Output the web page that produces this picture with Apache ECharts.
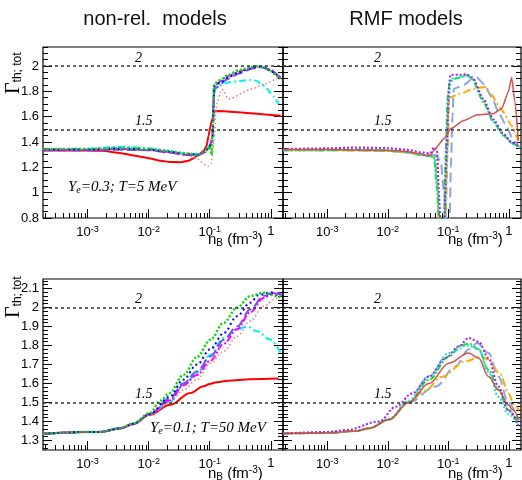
<!DOCTYPE html>
<html>
<head>
<meta charset="utf-8">
<script src="https://cdn.jsdelivr.net/npm/echarts@6/dist/echarts.min.js"></script>
<style>
html, body { margin: 0; padding: 0; background: #fff; }
#main { width: 522px; height: 480px; }
</style>
</head>
<body>
<div id="main"></div>
<script>
// shared x range (n_B in fm^-3)
let xMin = 1.86e-4, xMax = 1.585;
let xLabels = [1e-3, 1e-2, 1e-1, 1];

// y ticks
let topYLabels = [0.8, 1, 1.2, 1.4, 1.6, 1.8, 2];
let botYLabels = [1.3, 1.4, 1.5, 1.6, 1.7, 1.8, 1.9, 2, 2.1];

// ---- non-rel. models, Ye=0.3; T=5 MeV ----
let nrTopRed = [[1.86e-4,1.332],[1e-3,1.332],[1.78e-3,1.33],[3.16e-3,1.315],[6.3e-3,1.29],[0.01,1.272],[0.0158,1.252],[0.0224,1.242],[0.0331,1.241],[0.0447,1.252],[0.0537,1.27],[0.066,1.30],[0.0794,1.33],[0.0891,1.37],[0.0955,1.447],[0.102,1.52],[0.11,1.58],[0.116,1.632],[0.123,1.645],[1.45,1.607]];
let nrTopSalmon = [[1.86e-4,1.34],[1e-3,1.34],[3e-3,1.345],[0.01,1.335],[0.02,1.32],[0.033,1.305],[0.042,1.30],[0.062,1.268],[0.085,1.222],[0.095,1.21],[0.105,1.23],[0.117,1.40],[0.13,1.70],[0.158,1.816],[0.204,1.74],[0.5,1.82],[0.8,1.86],[1.45,1.92]];
let nrTopGreen = [[1.86e-4,1.345],[1e-3,1.345],[3e-3,1.352],[0.01,1.345],[0.02,1.33],[0.04,1.31],[0.065,1.30],[0.085,1.33],[0.1,1.37],[0.108,1.30],[0.113,1.55],[0.118,1.86],[0.15,1.89],[0.2,1.93],[0.3,1.965],[0.45,1.99],[0.6,2.0],[0.8,1.99],[1.0,1.96],[1.2,1.93],[1.45,1.90]];
let nrTopBlue = [[1.86e-4,1.34],[1e-3,1.34],[3e-3,1.348],[0.01,1.34],[0.02,1.325],[0.04,1.305],[0.065,1.30],[0.085,1.33],[0.1,1.37],[0.11,1.40],[0.115,1.70],[0.118,1.84],[0.15,1.87],[0.2,1.91],[0.3,1.95],[0.45,1.98],[0.6,1.995],[0.8,1.99],[1.0,1.96],[1.45,1.90]];
let nrTopMagenta = [[1.86e-4,1.338],[1e-3,1.338],[3e-3,1.345],[0.01,1.34],[0.02,1.322],[0.04,1.30],[0.065,1.298],[0.085,1.325],[0.1,1.36],[0.112,1.45],[0.116,1.75],[0.12,1.85],[0.2,1.92],[0.3,1.955],[0.5,1.99],[0.7,2.0],[1.0,1.97],[1.45,1.90]];
let nrTopViolet = [[1.86e-4,1.335],[1e-3,1.335],[3e-3,1.34],[0.01,1.335],[0.02,1.32],[0.04,1.30],[0.065,1.295],[0.085,1.32],[0.1,1.35],[0.112,1.45],[0.116,1.72],[0.12,1.82],[0.2,1.90],[0.3,1.94],[0.5,1.98],[0.7,1.99],[1.0,1.965],[1.45,1.91]];
let nrTopCyan = [[1.86e-4,1.34],[1e-3,1.345],[2.5e-3,1.36],[5e-3,1.36],[0.01,1.35],[0.02,1.33],[0.04,1.31],[0.065,1.305],[0.085,1.33],[0.1,1.36],[0.112,1.45],[0.116,1.70],[0.12,1.83],[0.2,1.87],[0.3,1.88],[0.45,1.89],[0.56,1.885],[0.7,1.86],[0.86,1.82],[1.1,1.76],[1.35,1.70]];

// ---- RMF models, Ye=0.3; T=5 MeV ----
let rmfTopRed = [[1.86e-4,1.34],[1e-3,1.34],[0.01,1.335],[0.02,1.325],[0.033,1.31],[0.045,1.29],[0.052,1.30],[0.057,1.333],[0.085,1.426],[0.11,1.505],[0.18,1.57],[0.3,1.616],[0.55,1.624],[0.76,1.663],[0.98,1.795],[1.11,1.91],[1.26,1.715],[1.43,1.41]];
let rmfTopOrange = [[1.86e-4,1.335],[1e-3,1.335],[0.01,1.33],[0.02,1.32],[0.035,1.30],[0.05,1.29],[0.06,1.28],[0.066,1.10],[0.07,0.75],[0.09,0.75],[0.097,1.30],[0.103,1.75],[0.155,1.78],[0.26,1.82],[0.4,1.835],[0.5,1.78],[0.68,1.69],[0.81,1.636],[1.1,1.53],[1.43,1.41]];
let rmfTopGreen = [[1.86e-4,1.335],[1e-3,1.335],[3e-3,1.34],[0.01,1.33],[0.02,1.32],[0.035,1.30],[0.05,1.29],[0.058,1.28],[0.065,1.03],[0.07,0.75],[0.085,0.75],[0.09,1.29],[0.098,1.77],[0.106,1.875],[0.13,1.90],[0.204,1.927],[0.245,1.90],[0.38,1.715],[0.556,1.557],[0.81,1.452],[1.17,1.386],[1.5,1.36]];
let rmfTopPurple = [[1.86e-4,1.345],[1e-3,1.35],[3e-3,1.357],[0.01,1.352],[0.02,1.34],[0.035,1.32],[0.05,1.31],[0.058,1.36],[0.065,1.33],[0.07,1.0],[0.074,0.75],[0.085,0.75],[0.095,1.40],[0.103,1.85],[0.108,1.93],[0.15,1.93],[0.2,1.935],[0.25,1.91],[0.38,1.74],[0.55,1.58],[0.8,1.47],[1.1,1.40],[1.5,1.36]];
let rmfTopCyan = [[1.86e-4,1.34],[1e-3,1.342],[3e-3,1.348],[0.01,1.34],[0.02,1.325],[0.035,1.305],[0.05,1.295],[0.06,1.29],[0.068,1.0],[0.075,0.75],[0.088,0.75],[0.094,1.2],[0.1,1.7],[0.11,1.90],[0.15,1.91],[0.2,1.925],[0.25,1.91],[0.38,1.73],[0.55,1.57],[0.8,1.46],[1.1,1.39],[1.5,1.35]];
let rmfTopSteel = [[1.86e-4,1.335],[1e-3,1.335],[0.01,1.33],[0.02,1.32],[0.035,1.30],[0.05,1.29],[0.06,1.30],[0.075,1.25],[0.085,1.0],[0.092,0.75],[0.105,0.75],[0.11,1.2],[0.117,1.6],[0.123,1.82],[0.18,1.85],[0.25,1.90],[0.295,1.91],[0.4,1.85],[0.516,1.755],[0.7,1.62],[0.865,1.545],[1.18,1.42],[1.43,1.37]];

// ---- non-rel. models, Ye=0.1; T=50 MeV ----
let nrBotRed = [[1.86e-4,1.335],[1e-3,1.345],[1.6e-3,1.345],[3.4e-3,1.363],[5.6e-3,1.386],[0.0105,1.435],[0.0224,1.488],[0.048,1.55],[0.079,1.585],[0.1,1.598],[0.13,1.607],[0.2,1.615],[0.46,1.623],[1.34,1.626]];
let nrBotSalmon = [[1.86e-4,1.335],[1e-3,1.345],[1.6e-3,1.345],[3.4e-3,1.363],[5.6e-3,1.388],[0.0105,1.435],[0.022,1.50],[0.037,1.566],[0.062,1.62],[0.102,1.707],[0.17,1.77],[0.28,1.848],[0.46,1.928],[0.76,2.007],[1.26,2.05],[1.5,2.07]];
let nrBotGreen = [[1.86e-4,1.335],[1e-3,1.345],[1.6e-3,1.345],[3.4e-3,1.365],[5.6e-3,1.39],[0.0105,1.445],[0.0155,1.51],[0.022,1.55],[0.037,1.645],[0.062,1.74],[0.102,1.83],[0.17,1.92],[0.28,2.0],[0.46,2.06],[0.76,2.078],[1.26,2.06],[1.5,2.05]];
let nrBotBlue = [[1.86e-4,1.335],[1e-3,1.345],[1.6e-3,1.345],[3.4e-3,1.364],[5.6e-3,1.388],[0.0105,1.44],[0.022,1.53],[0.037,1.62],[0.062,1.70],[0.102,1.78],[0.17,1.866],[0.28,1.954],[0.46,2.025],[0.63,2.065],[1.0,2.08],[1.3,2.065],[1.5,2.06]];
let nrBotViolet = [[1.86e-4,1.335],[1e-3,1.345],[1.6e-3,1.345],[3.4e-3,1.364],[5.6e-3,1.388],[0.0105,1.44],[0.022,1.52],[0.037,1.60],[0.062,1.663],[0.102,1.742],[0.17,1.83],[0.28,1.90],[0.46,1.99],[0.76,2.06],[1.1,2.078],[1.5,2.07]];
let nrBotMagenta = [[1.86e-4,1.335],[1e-3,1.345],[1.6e-3,1.345],[3.4e-3,1.364],[5.6e-3,1.388],[0.0105,1.44],[0.022,1.51],[0.037,1.59],[0.062,1.645],[0.102,1.72],[0.17,1.81],[0.28,1.885],[0.46,1.975],[0.76,2.05],[1.1,2.075],[1.5,2.07]];
let nrBotCyan = [[1.86e-4,1.335],[1e-3,1.345],[1.6e-3,1.345],[3.4e-3,1.364],[5.6e-3,1.388],[0.0105,1.44],[0.022,1.50],[0.037,1.593],[0.062,1.654],[0.102,1.75],[0.17,1.84],[0.28,1.884],[0.41,1.90],[0.59,1.875],[1.0,1.83],[1.5,1.75]];

// ---- RMF models, Ye=0.1; T=50 MeV ----
let rmfBotRed = [[1.86e-4,1.337],[1e-3,1.34],[3e-3,1.35],[5e-3,1.365],[0.0105,1.41],[0.022,1.50],[0.048,1.60],[0.102,1.707],[0.217,1.76],[0.316,1.734],[0.46,1.637],[0.67,1.566],[0.98,1.487],[1.17,1.46],[1.47,1.407]];
let rmfBotOrange = [[1.86e-4,1.337],[1e-3,1.34],[3e-3,1.35],[5e-3,1.365],[0.0105,1.41],[0.022,1.50],[0.04,1.56],[0.079,1.636],[0.19,1.716],[0.34,1.742],[0.46,1.725],[0.716,1.65],[0.98,1.548],[1.26,1.48],[1.47,1.46]];
let rmfBotGreen = [[1.86e-4,1.337],[1e-3,1.34],[3e-3,1.35],[5e-3,1.365],[0.0105,1.41],[0.022,1.50],[0.048,1.62],[0.102,1.742],[0.162,1.80],[0.217,1.81],[0.316,1.78],[0.46,1.672],[0.67,1.566],[0.98,1.46],[1.43,1.39]];
let rmfBotPurple = [[1.86e-4,1.337],[1e-3,1.345],[2.06e-3,1.355],[7.2e-3,1.40],[0.0136,1.478],[0.0255,1.548],[0.048,1.636],[0.09,1.734],[0.148,1.795],[0.217,1.84],[0.316,1.82],[0.46,1.734],[0.67,1.584],[0.98,1.46],[1.43,1.38]];
let rmfBotCyan = [[1.86e-4,1.337],[1e-3,1.34],[3e-3,1.35],[5e-3,1.366],[0.0105,1.415],[0.022,1.51],[0.048,1.64],[0.102,1.76],[0.217,1.80],[0.316,1.78],[0.46,1.66],[0.67,1.53],[0.98,1.44],[1.43,1.38]];
let rmfBotSteel = [[1.86e-4,1.337],[1e-3,1.34],[3e-3,1.35],[5e-3,1.365],[0.0105,1.41],[0.022,1.50],[0.062,1.584],[0.131,1.69],[0.217,1.78],[0.3,1.813],[0.46,1.76],[0.67,1.637],[0.98,1.50],[1.43,1.41]];

// minor tick positions
let xMinor = [];
for (let e = -4; e <= 0; e++) {
    for (let k = 2; k <= 9; k++) {
        let v = k * Math.pow(10, e);
        if (v > xMin && v < xMax) xMinor.push(v);
    }
}
function steps(from, to, step, skip) {
    let res = [];
    for (let i = 0; from + i * step <= to + 1e-9; i++) {
        let v = +(from + i * step).toFixed(3);
        if (skip.indexOf(v) < 0) res.push(v);
    }
    return res;
}
let topYMinor = steps(0.8, 2.15, 0.05, topYLabels);
let botYMinor = steps(1.26, 2.15, 0.02, botYLabels);

let grids = [
    {left: 43, top: 47, width: 240, height: 171},
    {left: 283, top: 47, width: 238, height: 171},
    {left: 43, top: 279, width: 240, height: 171},
    {left: 283, top: 279, width: 238, height: 171}
];

let labelFont = {fontFamily: "Liberation Sans", fontSize: 13, color: "#000"};

let xAxes = [], yAxes = [];
grids.forEach(function (g, i) {
    xAxes.push({
        type: "log", logBase: 10, gridIndex: i, min: xMin, max: xMax, position: "bottom",
        axisLine: {show: false}, splitLine: {show: false},
        axisTick: {inside: true, length: 9, customValues: xLabels, lineStyle: {color: "#000"}},
        axisLabel: Object.assign({
            customValues: xLabels, margin: 7,
            formatter: function (v) {
                let e = Math.round(Math.log10(v));
                return e === 0 ? "1" : "10{s|" + e + "}";
            },
            rich: {s: {fontFamily: "Liberation Sans", fontSize: 9, verticalAlign: "top", padding: [0, 0, 6, 0]}}
        }, labelFont)
    });
    xAxes.push({
        type: "log", logBase: 10, gridIndex: i, min: xMin, max: xMax, position: "bottom",
        axisLine: {show: false}, splitLine: {show: false}, axisLabel: {show: false},
        axisTick: {inside: true, length: 5, customValues: xMinor, lineStyle: {color: "#000"}}
    });
    let top = i < 2;
    let yMin = top ? 0.8 : 1.25;
    let major = top ? topYLabels : botYLabels;
    let minor = top ? topYMinor : botYMinor;
    ["left", "right"].forEach(function (pos) {
        yAxes.push({
            type: "value", gridIndex: i, min: yMin, max: 2.15, position: pos,
            axisLine: {show: false}, splitLine: {show: false},
            axisTick: {inside: true, length: 9, customValues: major, lineStyle: {color: "#000"}},
            axisLabel: Object.assign({show: pos === "left" && i % 2 === 0, customValues: major, margin: 4}, labelFont)
        });
        yAxes.push({
            type: "value", gridIndex: i, min: yMin, max: 2.15, position: pos,
            axisLine: {show: false}, splitLine: {show: false}, axisLabel: {show: false},
            axisTick: {inside: true, length: 5, customValues: minor, lineStyle: {color: "#000"}}
        });
    });
});

function refLines(pad) {
    return {
        symbol: "none", silent: true,
        lineStyle: {color: "#333", type: [3, 3], width: 1.5},
        label: {
            position: "insideStartTop", formatter: "{b}", distance: 1, padding: [0, 0, 0, pad],
            fontFamily: "Liberation Serif", fontStyle: "italic", fontSize: 14, color: "#000"
        },
        data: [{yAxis: 2, name: "2"}, {yAxis: 1.5, name: "1.5"}]
    };
}

function curve(data, g, color, dash, width) {
    return {
        type: "line", xAxisIndex: 2 * g, yAxisIndex: 4 * g, data: data,
        showSymbol: false, symbol: "none", smooth: g < 2 ? 0.2 : 0.35, smoothMonotone: "x",
        lineStyle: {color: color, type: dash, width: width}
    };
}

let series = [
    curve(nrTopRed, 0, "#ff0000", "solid", 2),
    curve(nrTopSalmon, 0, "#e87a7a", [1.5, 2.5], 1.5),
    curve(nrTopCyan, 0, "#00f0f0", [7, 3, 2, 3], 2),
    curve(nrTopViolet, 0, "#5b5bef", [10, 4], 2),
    curve(nrTopMagenta, 0, "#ff00ff", [7, 2, 2, 2], 2),
    curve(nrTopBlue, 0, "#0000ff", [2, 3], 2),
    curve(nrTopGreen, 0, "#00dd00", [2, 2], 2.5),

    curve(rmfTopSteel, 1, "#86a8dc", [10, 5], 2),
    curve(rmfTopOrange, 1, "#ffaa00", [8, 3, 2, 3], 2),
    curve(rmfTopGreen, 1, "#11dd33", [6, 2, 2, 2], 2),
    curve(rmfTopCyan, 1, "#22dddd", [2, 2], 2),
    curve(rmfTopPurple, 1, "#a020f0", [2, 2], 2),
    curve(rmfTopRed, 1, "#d05050", "solid", 1.5),

    curve(nrBotRed, 2, "#ff0000", "solid", 2),
    curve(nrBotSalmon, 2, "#e87a7a", [1.5, 2.5], 1.5),
    curve(nrBotCyan, 2, "#00f0f0", [7, 3, 2, 3], 2),
    curve(nrBotViolet, 2, "#5b5bef", [10, 4], 2),
    curve(nrBotMagenta, 2, "#ff00ff", [7, 2, 2, 2], 2),
    curve(nrBotBlue, 2, "#0000ff", [2, 3], 2),
    curve(nrBotGreen, 2, "#00dd00", [2, 2], 2.5),

    curve(rmfBotSteel, 3, "#86a8dc", [10, 5], 2),
    curve(rmfBotOrange, 3, "#ffaa00", [8, 3, 2, 3], 2),
    curve(rmfBotGreen, 3, "#11dd33", [6, 2, 2, 2], 2),
    curve(rmfBotCyan, 3, "#22dddd", [2, 2], 2),
    curve(rmfBotPurple, 3, "#a020f0", [2, 2], 2),
    curve(rmfBotRed, 3, "#d05050", "solid", 1.5)
];
series[0].markLine = refLines(91);
series[7].markLine = refLines(90);
series[13].markLine = refLines(91);
series[20].markLine = refLines(90);

let serifIt = {fontFamily: "Liberation Serif", fontStyle: "italic", fontSize: 15};
let subIt = {fontFamily: "Liberation Serif", fontStyle: "italic", fontSize: 10, verticalAlign: "bottom", padding: [6, 0, 0, 0]};

function yTitle(y) {
    return {
        type: "text", x: 14, y: y, rotation: Math.PI / 2,
        style: {
            text: "{g|Γ}{s|th; tot}", align: "left", verticalAlign: "middle", fill: "#000",
            rich: {
                g: {fontFamily: "Liberation Serif", fontSize: 20},
                s: {fontFamily: "Liberation Sans", fontSize: 12, verticalAlign: "bottom", padding: [7, 0, 0, 0]}
            }
        }
    };
}
function xTitle(x, y) {
    return {
        type: "text", x: x, y: y,
        style: {
            text: "n{s|B} (fm{p|-3})", align: "left", verticalAlign: "middle", fill: "#000",
            fontFamily: "Liberation Sans", fontSize: 15,
            rich: {
                s: {fontFamily: "Liberation Sans", fontSize: 10, verticalAlign: "bottom", padding: [7, 0, 0, 0]},
                p: {fontFamily: "Liberation Sans", fontSize: 10, verticalAlign: "top", padding: [0, 0, 7, 0]}
            }
        }
    };
}

let chart = echarts.init(document.getElementById("main"), null, {renderer: "canvas"});
chart.setOption({
    animation: false,
    backgroundColor: "#fff",
    grid: grids.map(function (g) {
        return Object.assign({show: true, borderColor: "#000", borderWidth: 1.2, outerBoundsMode: "none"}, g);
    }),
    xAxis: xAxes,
    yAxis: yAxes,
    series: series,
    graphic: [
        {type: "text", x: 155, y: 19, style: {text: "non-rel.  models", align: "center", verticalAlign: "middle", fontFamily: "Liberation Sans", fontSize: 20, fill: "#111"}},
        {type: "text", x: 406, y: 19, style: {text: "RMF models", align: "center", verticalAlign: "middle", fontFamily: "Liberation Sans", fontSize: 20, fill: "#111"}},
        yTitle(94),
        yTitle(318),
        xTitle(208, 240),
        xTitle(448, 240),
        xTitle(208, 474),
        xTitle(448, 474),
        {type: "text", x: 68, y: 187, style: {text: "{i|Y}{s|e}{i|=0.3; T=5 MeV}", align: "left", verticalAlign: "middle", fill: "#000", rich: {i: serifIt, s: subIt}}},
        {type: "text", x: 150, y: 428, style: {text: "{i|Y}{s|e}{i|=0.1; T=50 MeV}", align: "left", verticalAlign: "middle", fill: "#000", rich: {i: serifIt, s: subIt}}}
    ]
});
</script>
</body>
</html>
